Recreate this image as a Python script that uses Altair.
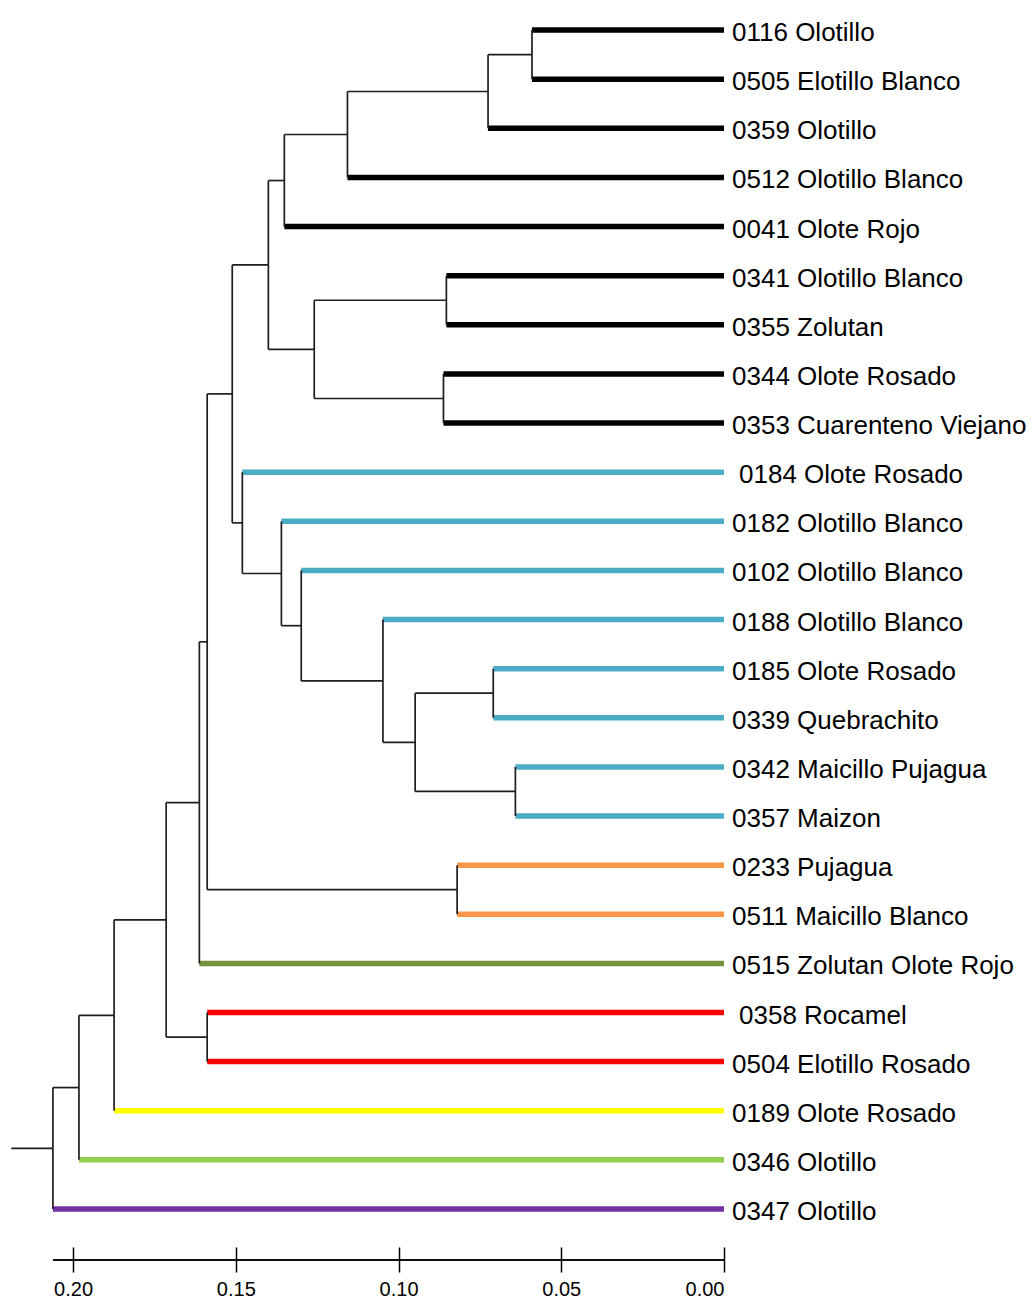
import altair as alt
import pandas as pd

# ---------------- data ----------------
LEAVES = [
    "0116 Olotillo", "0505 Elotillo Blanco", "0359 Olotillo", "0512 Olotillo Blanco",
    "0041 Olote Rojo", "0341 Olotillo Blanco", "0355 Zolutan", "0344 Olote Rosado",
    "0353 Cuarenteno Viejano", "0184 Olote Rosado", "0182 Olotillo Blanco",
    "0102 Olotillo Blanco", "0188 Olotillo Blanco", "0185 Olote Rosado",
    "0339 Quebrachito", "0342 Maicillo Pujagua", "0357 Maizon", "0233 Pujagua",
    "0511 Maicillo Blanco", "0515 Zolutan Olote Rojo", "0358 Rocamel",
    "0504 Elotillo Rosado", "0189 Olote Rosado", "0346 Olotillo", "0347 Olotillo",
]
LEAF_GROUP = [
    "G1", "G1", "G1", "G1", "G1", "G1", "G1", "G1", "G1",
    "G2", "G2", "G2", "G2", "G2", "G2", "G2", "G2",
    "G3", "G3", "G4", "G5", "G5", "G6", "G7", "G8",
]
# labels that sit a little further right in the original figure
SHIFTED_LABELS = ["0184 Olote Rosado", "0358 Rocamel"]

GROUP_NAMES = ["G1", "G2", "G3", "G4", "G5", "G6", "G7", "G8"]
GROUP_COLORS = ["#000000", "#4bacc6", "#f79646", "#77933c", "#ff0000", "#ffff00", "#92d050", "#7030a0"]

# linkage: node N(k+1) joins MERGE_LEFT[k] and MERGE_RIGHT[k] at MERGE_HEIGHT[k]
MERGE_LEFT = ["L0", "N1", "N2", "N3", "L5", "L7", "N5", "N4", "L13", "L15", "N9", "L12",
              "L11", "L10", "L9", "N8", "L17", "N16", "N18", "L20", "N19", "N21", "N22", "N23"]
MERGE_RIGHT = ["L1", "L2", "L3", "L4", "L6", "L8", "N6", "N7", "L14", "L16", "N10", "N11",
               "N12", "N13", "N14", "N15", "L18", "N17", "L19", "L21", "N20", "L22", "L23", "L24"]
MERGE_HEIGHT = [0.0590, 0.0725, 0.1157, 0.1351, 0.0853, 0.0862, 0.1259, 0.1400, 0.0709,
                0.0641, 0.0949, 0.1048, 0.1299, 0.1360, 0.1480, 0.1511, 0.0820, 0.1588,
                0.1612, 0.1588, 0.1714, 0.1874, 0.1982, 0.2062]
ROOT_TAIL = 0.219
AXIS_VALUES = [0.20, 0.15, 0.10, 0.05, 0.00]

# ---------------- build tree geometry ----------------
pos, hgt = {}, {}
for i in range(len(LEAVES)):
    pos[f"L{i}"] = float(i)
    hgt[f"L{i}"] = 0.0

thin_rows, thick_rows = [], []
for k, (l, r, h) in enumerate(zip(MERGE_LEFT, MERGE_RIGHT, MERGE_HEIGHT)):
    name = f"N{k + 1}"
    pos[name] = (pos[l] + pos[r]) / 2
    hgt[name] = h
    thin_rows.append({"x": h, "x2": h, "y": pos[l], "y2": pos[r]})
    for c in (l, r):
        if c.startswith("L"):
            idx = int(c[1:])
            thick_rows.append({"x": h, "x2": 0.0, "y": pos[c], "group": LEAF_GROUP[idx]})
        else:
            thin_rows.append({"x": h, "x2": hgt[c], "y": pos[c], "y2": pos[c]})

root = f"N{len(MERGE_HEIGHT)}"
thin_rows.append({"x": ROOT_TAIL, "x2": hgt[root], "y": pos[root], "y2": pos[root]})

thin_df = pd.DataFrame(thin_rows)
thick_df = pd.DataFrame(thick_rows)
label_df = pd.DataFrame({
    "label": LEAVES,
    "y": [float(i) for i in range(len(LEAVES))],
    "x": [0.0] * len(LEAVES),
    "shifted": [lab in SHIFTED_LABELS for lab in LEAVES],
})
axis_df = pd.DataFrame({"x": [hgt[root]], "x2": [0.0]})

FONT = "Liberation Sans, Arial, sans-serif"

xscale = alt.Scale(domain=[0, 0.22], reverse=True, nice=False, zero=False)
yscale = alt.Scale(domain=[-0.45, 24.55], reverse=True, nice=False, zero=False)

x_axis = alt.Axis(values=AXIS_VALUES, format=".2f", domain=False, grid=False,
                  tickSize=25, offset=11, tickColor="#000000", tickWidth=1.5,
                  labelFont=FONT, labelFontSize=20, labelColor="#000000",
                  labelPadding=7, labelBaseline="top", title=None)

thick = alt.Chart(thick_df).mark_rule(strokeWidth=5.5).encode(
    x=alt.X("x:Q", scale=xscale, axis=x_axis),
    x2="x2:Q",
    y=alt.Y("y:Q", scale=yscale, axis=None),
    color=alt.Color("group:N", scale=alt.Scale(domain=GROUP_NAMES, range=GROUP_COLORS), legend=None),
)

thin = alt.Chart(thin_df).mark_rule(strokeWidth=1.7, color="#1e1e1e").encode(
    x=alt.X("x:Q", scale=xscale), x2="x2:Q",
    y=alt.Y("y:Q", scale=yscale), y2="y2:Q",
)

axis_line = alt.Chart(axis_df).mark_rule(strokeWidth=2, color="#111111").encode(
    x=alt.X("x:Q", scale=xscale), x2="x2:Q", y=alt.value(1252),
)

base_labels = alt.Chart(label_df).encode(
    x=alt.X("x:Q", scale=xscale), y=alt.Y("y:Q", scale=yscale), text="label:N",
)
labels = base_labels.transform_filter("!datum.shifted").mark_text(
    align="left", baseline="middle", dx=8, dy=3, font=FONT, fontSize=26, color="#000000"
)
labels_shifted = base_labels.transform_filter("datum.shifted").mark_text(
    align="left", baseline="middle", dx=15, dy=3, font=FONT, fontSize=26, color="#000000"
)

chart = alt.layer(thick, thin, axis_line, labels, labels_shifted).properties(
    width=716, height=1228,
    background="#ffffff",
    autosize=alt.AutoSizeParams(type="none"),
    padding={"left": 0, "top": 0, "right": 302, "bottom": 64},
).configure_view(strokeWidth=0)

chart.save("out.html", embed_options={"renderer": "svg", "actions": False})
